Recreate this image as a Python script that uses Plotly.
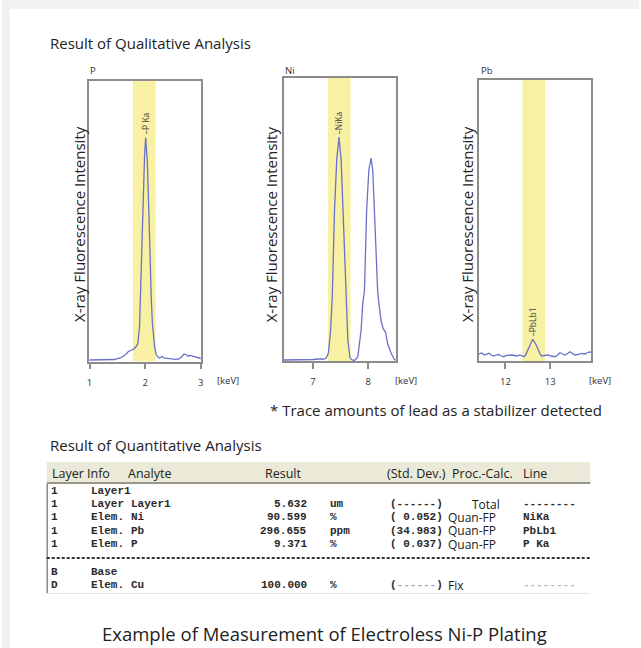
import plotly.graph_objects as go

W, H = 641, 648

# ---------------- data ----------------
p_energy = [1.00, 1.10, 1.20, 1.30, 1.40, 1.45, 1.50, 1.55, 1.60, 1.65,
            1.70, 1.75, 1.80, 1.84, 1.87, 1.90, 1.93, 1.96, 1.99, 2.01,
            2.04, 2.07, 2.09, 2.11, 2.13, 2.15, 2.17, 2.20, 2.23, 2.26,
            2.29, 2.31, 2.34, 2.40, 2.45, 2.50, 2.55, 2.60, 2.65, 2.70,
            2.73, 2.77, 2.82, 2.87, 2.92, 2.97, 3.00]
p_counts = [1.5, 1.5, 1.6, 1.5, 1.8, 2.0, 2.8, 3.5, 5.0, 7.0,
            10, 11.5, 12.5, 15, 18, 35, 99, 165, 205, 224,
            200, 145, 99, 65, 39, 24, 15, 7, 4.5, 3.5,
            4.5, 5, 3.5, 3, 2.5, 2, 2.2, 2.5, 4, 7.5,
            7, 5.5, 6, 5, 4.5, 3.5, 3]

ni_energy = [6.47, 6.60, 6.80, 7.00, 7.10, 7.15, 7.20, 7.24, 7.28, 7.32,
             7.35, 7.39, 7.43, 7.47, 7.51, 7.55, 7.60, 7.63, 7.67, 7.71,
             7.75, 7.81, 7.87, 7.90, 7.93, 7.97, 8.01, 8.05, 8.08, 8.13,
             8.17, 8.23, 8.27, 8.31, 8.35, 8.41, 8.47, 8.50]
ni_counts = [1.0, 1.0, 1.2, 1.5, 2.0, 2.2, 2.0, 3.0, 8, 31,
             65, 151, 201, 224, 201, 141, 66, 21, 3, 1,
             0.5, 4, 31, 58, 70, 151, 191, 203, 191, 114,
             68, 40, 32, 29, 17, 8, 1.5, 1.0]

pb_energy = [11.41, 11.47, 11.53, 11.58, 11.63, 11.69, 11.74, 11.80, 11.85, 11.91,
             11.96, 12.02, 12.08, 12.15, 12.21, 12.26, 12.32, 12.41, 12.45, 12.48,
             12.52, 12.56, 12.61, 12.67, 12.71, 12.74, 12.78, 12.81, 12.87, 12.95,
             13.02, 13.11, 13.17, 13.22, 13.28, 13.33, 13.39, 13.44, 13.50, 13.55,
             13.62, 13.70, 13.78, 13.85, 13.92]
pb_counts = [7.0, 8.0, 6.0, 6.5, 7.7, 6.0, 5.0, 6.0, 6.5, 5.0,
             4.3, 5.5, 6.0, 6.0, 5.5, 5.0, 6.0, 4.3, 6.0, 9.3,
             13.5, 17.7, 21.7, 17.7, 13.0, 9.3, 6.5, 5.0, 5.5, 6.0,
             5.0, 4.3, 6.0, 8.3, 7.0, 6.0, 7.5, 9.3, 7.5, 6.0,
             6.5, 7.7, 7.0, 8.7, 9.0]

panel_names = ["P", "Ni", "Pb"]
line_labels = ["P Ka", "NiKa", "PbLb1"]
line_energies = [2.01, 7.47, 12.61]
line_peaks = [224, 224, 21.7]
band_ranges = [(1.78, 2.19), (7.27, 7.68), (12.38, 12.89)]
x_ranges = [(0.99, 3.01), (6.47, 8.50), (11.41, 13.92)]
tick_values = [[1, 2, 3], [7, 8], [12, 13]]
tick_labels = [["1", "2", "3"], ["7", "8"], ["12", "13"]]

table_header = ["Layer", "Info", "Analyte", "Result", "(Std. Dev.)", "Proc.-Calc.", "Line"]
tbl_layer = ["1", "1", "1", "1", "1", "B", "D"]
tbl_info = ["Layer1", "Layer", "Elem.", "Elem.", "Elem.", "Base", "Elem."]
tbl_analyte = ["", "Layer1", "Ni", "Pb", "P", "", "Cu"]
tbl_result = ["", "5.632", "90.599", "296.655", "9.371", "", "100.000"]
tbl_unit = ["", "um", "%", "ppm", "%", "", "%"]
tbl_std = ["", "------", " 0.052", "34.983", " 0.037", "", "------"]
tbl_proc = ["", "Total", "Quan-FP", "Quan-FP", "Quan-FP", "", "Fix"]
tbl_line = ["", "--------", "NiKa", "PbLb1", "P Ka", "", "--------"]

# ---------------- layout helpers ----------------
def px(x):
    return x / W

def py(y):
    return 1 - y / H

LINE_COLOR = "#6b70c8"
BAND_COLOR = "#f8f1a4"
BOX_COLOR = "#8c8c8c"
SANS = "Open Sans"
MONO = "Liberation Mono"

# panel boxes in pixels: (left, right, top, bottom)
boxes = [(87.5, 200.5, 80.5, 361.5), (283.3, 396.5, 78.0, 361.0), (480.0, 593.0, 80.0, 361.0)]
y_ranges = [(0, 281), (0, 283), (0, 281)]
ytitle_x = [77.5, 271, 468]
kev_x = [227, 407, 602]

fig = go.Figure()
spectra = [(p_energy, p_counts), (ni_energy, ni_counts), (pb_energy, pb_counts)]
annotations = []
shapes = []


def ann(text, x, y, xanchor="left", yanchor="middle", font=None, angle=0, xref="paper", yref="paper"):
    annotations.append(dict(text=text, x=x, y=y, xref=xref, yref=yref, xanchor=xanchor,
                            yanchor=yanchor, showarrow=False, textangle=angle, borderpad=0,
                            font=font))


for i, (ex, cy) in enumerate(spectra):
    ax = "" if i == 0 else str(i + 1)
    fig.add_trace(go.Scatter(x=ex, y=cy, mode="lines", xaxis="x" + ax, yaxis="y" + ax,
                             line=dict(color=LINE_COLOR, width=1.3), showlegend=False,
                             hoverinfo="skip"))
    l, r, t, b = boxes[i]
    fig.update_layout(**{
        "xaxis" + ax: dict(domain=[px(l), px(r)], range=list(x_ranges[i]), anchor="y" + ax,
                           showline=True, mirror=True, linecolor=BOX_COLOR, linewidth=1.5,
                           showgrid=False, zeroline=False, ticks="outside", ticklen=6,
                           tickwidth=1.5, tickcolor=BOX_COLOR, tickvals=tick_values[i],
                           ticktext=tick_labels[i], ticklabelstandoff=5, fixedrange=True,
                           tickfont=dict(family=SANS, size=9.5, color="#333")),
        "yaxis" + ax: dict(domain=[py(b), py(t)], range=list(y_ranges[i]), anchor="x" + ax,
                           showline=True, mirror=True, linecolor=BOX_COLOR, linewidth=1.5,
                           showgrid=False, zeroline=False, showticklabels=False, ticks="",
                           fixedrange=True),
    })
    b0, b1 = band_ranges[i]
    shapes.append(dict(type="rect", xref="x" + ax, yref="y" + ax + " domain", x0=b0, x1=b1,
                       y0=0, y1=1, fillcolor=BAND_COLOR, line=dict(width=0), layer="below"))
    ann(panel_names[i], px(l + 0.5), py(70.5), font=dict(family=SANS, size=9.5, color="#333"))
    ann("X-ray Fluorescence Intensity", px(ytitle_x[i]), py(224), "center", angle=-90,
        font=dict(family=SANS, size=15, color="#222"))
    ann("[keV]", px(kev_x[i]), py(381), "center", font=dict(family=SANS, size=9.5, color="#333"))
    ann("\u2013" + line_labels[i], line_energies[i], line_peaks[i] + 2, "center", "bottom",
        angle=-90, xref="x" + ax, yref="y" + ax, font=dict(family=SANS, size=8.5, color="#444"))

# background frame (light grey edge at top and left, white elsewhere)
shapes.append(dict(type="rect", xref="paper", yref="paper", x0=px(630), x1=1, y0=0, y1=py(9),
                   fillcolor="white", line=dict(width=0), layer="below"))
shapes.append(dict(type="rect", xref="paper", yref="paper", x0=0, x1=px(8), y0=0, y1=1,
                   fillcolor="#f2f2f2", line=dict(width=0), layer="below"))
shapes.append(dict(type="rect", xref="paper", yref="paper", x0=0, x1=1, y0=py(9), y1=1,
                   fillcolor="#f2f2f2", line=dict(width=0), layer="below"))

# titles
ann("Result of Qualitative Analysis", px(47), py(43), font=dict(family=SANS, size=15, color="#222"))
ann("* Trace amounts of lead as a stabilizer detected", px(605), py(410), "right",
    font=dict(family=SANS, size=15, color="#222"))
ann("Result of Quantitative Analysis", px(47), py(445), font=dict(family=SANS, size=15, color="#222"))
ann("Example of Measurement of Electroless Ni-P Plating", px(325), py(633), "center",
    font=dict(family=SANS, size=18.5, color="#222"))

# ---------------- table ----------------
T_L, T_R = 45, 592
shapes.append(dict(type="rect", xref="paper", yref="paper", x0=px(T_L), x1=px(T_R), y0=py(483), y1=py(462),
                   fillcolor="#ebe9d7", line=dict(width=0), layer="below"))
shapes.append(dict(type="line", xref="paper", yref="paper", x0=px(T_L), x1=px(T_R), y0=py(483), y1=py(483),
                   line=dict(color="#9a978a", width=2)))
shapes.append(dict(type="line", xref="paper", yref="paper", x0=px(T_L + 0.5), x1=px(T_L + 0.5),
                   y0=py(484), y1=py(593), line=dict(color="#888", width=1.5)))
shapes.append(dict(type="line", xref="paper", yref="paper", x0=px(T_L), x1=px(T_R), y0=py(593.5), y1=py(593.5),
                   line=dict(color="#e6e6e6", width=1)))
shapes.append(dict(type="line", xref="paper", yref="paper", x0=px(T_L), x1=px(T_R), y0=py(558), y1=py(558),
                   line=dict(color="#333", width=2, dash="3px,2px")))

header_x = [49, 84.5, 126, 264, 386, 452, 523]
for hx, ht in zip(header_x, table_header):
    ann(ht, px(hx), py(473), font=dict(family=SANS, size=12.5, color="#222"))

row_y = [491, 504, 517.3, 530.6, 544, 572, 585]
mono = dict(family=MONO, size=11, color="#2a2a2a", weight="bold")


def add_text(txt, x, y, anchor="left", font=mono):
    if txt == "":
        return
    ann(txt, px(x), py(y), anchor, font=font)


for k in range(len(tbl_layer)):
    y = row_y[k]
    add_text(tbl_layer[k], 53, y, "center")
    add_text(tbl_info[k], 89, y)
    add_text(tbl_analyte[k], 128.6, y)
    add_text(tbl_result[k], 308, y, "right")
    add_text(tbl_unit[k], 329, y)
    if tbl_std[k]:
        s = tbl_std[k]
        if set(s) == {"-"}:
            col = "#2a2a2a" if tbl_proc[k] == "Total" else "#aaaaaa"
            s = "<span style='color:%s'>%s</span>" % (col, s)
        add_text("(" + s + ")", 389, y)
    if tbl_proc[k]:
        xx = 472 if tbl_proc[k] == "Total" else 448
        add_text(tbl_proc[k], xx, y, font=dict(family=SANS, size=12, color="#1a1a1a"))
    if tbl_line[k]:
        col = "#bbbbbb" if tbl_proc[k] == "Fix" else "#2a2a2a"
        add_text(tbl_line[k], 523, y, font=dict(family=MONO, size=11, color=col, weight="bold"))

fig.update_layout(width=W, height=H, autosize=False, margin=dict(l=0, r=0, t=0, b=0),
                  paper_bgcolor="white", plot_bgcolor="white",
                  annotations=annotations, shapes=shapes)
fig.write_html("out.html", config={"displayModeBar": False},
               post_script="document.body.style.margin='0px';document.body.style.overflow='hidden';"
                           "document.documentElement.style.overflow='hidden';"
                           "document.documentElement.style.scrollbarWidth='none';"
                           "document.documentElement.style.height='648px';document.body.style.height='648px';")
